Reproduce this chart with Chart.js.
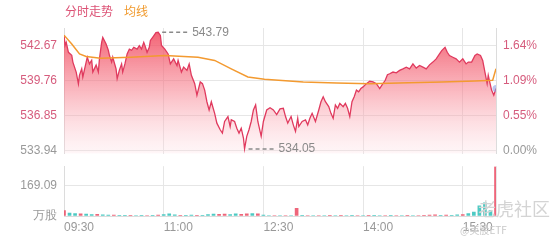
<!DOCTYPE html>
<html>
<head>
<meta charset="utf-8">
<script src="https://cdn.jsdelivr.net/npm/chart.js@4.4.1/dist/chart.umd.min.js"></script>
<style>
  html, body { margin: 0; padding: 0; background: #fff; }
  #wrap { position: relative; width: 560px; height: 240px; overflow: hidden; font-family: "Liberation Sans", Arial, "Noto Sans CJK SC", sans-serif; }
  #price { position: absolute; left: 0; top: 0; }
  #vol { position: absolute; left: 0; top: 152px; }
  .lg { position: absolute; top: 2px; font-size: 12px; font-family: "Noto Sans CJK SC", sans-serif; }
  .wm { position: absolute; color: #d4d4d4; font-family: "Noto Sans CJK SC", sans-serif; }
</style>
</head>
<body>
<div id="wrap">
  <canvas id="price" width="560" height="168"></canvas>
  <canvas id="vol" width="560" height="88"></canvas>
  <div class="lg" style="left:65px;color:#dc5275">分时走势</div>
  <div class="lg" style="left:124px;color:#f09a2e">均线</div>
  <div class="wm" style="left:478px;top:195px;font-size:18px">老虎社区</div>
  <div class="wm" style="left:460px;top:222px;font-size:10px;color:#c8c8c8">@美股ETF</div>
</div>
<script>
// minutes after 09:30 and price at that minute
const priceMins = [0,1,2,4,7,8,11,13,14,16,17,20,21,23,25,26,29,31,32,34,35,38,40,41,43,44,47,48,50,52,53,55,57,59,61,63,66,68,70,72,73,75,77,78,81,83,85,87,88,91,
  94,96,99,102,103,106,108,111,113,115,118,120,123,125,127,129,131,133,136,138,141,143,145,148,150,151,154,156,158,160,162,163,165,167,169,171,173,175,178,180,183,186,189,
  192,195,198,200,202,205,207,209,211,212,215,218,220,222,224,227,230,232,234,236,239,241,243,245,247,249,252,254,256,258,260,262,264,266,268,270,273,276,279,282,284,
  285,287,290,292,294,297,300,303,306,309,312,315,318,321,324,327,330,333,336,339,341,344,346,348,351,354,357,360,363,365,368,371,373,376,378,380,382,383,384,386,388,390];
const priceVals = [543.55,542.70,542.95,542.12,541.87,541.30,540.47,539.48,540.22,540.74,540.06,541.30,541.71,541.15,541.46,540.47,541.05,540.47,541.57,542.95,543.36,542.81,542.29,541.87,541.30,541.71,540.74,539.92,540.63,541.15,540.47,541.15,541.98,542.39,542.29,542.54,542.39,542.68,542.39,542.95,542.70,542.12,542.54,543.11,543.50,543.77,543.79,543.53,542.70,542.39,
  541.98,541.15,541.57,541.02,541.44,540.47,540.88,540.61,541.15,540.20,539.50,538.54,539.64,539.50,538.96,537.99,537.30,537.99,537.02,536.20,535.65,535.37,536.34,536.75,535.92,536.48,536.34,535.78,535.37,535.78,534.96,534.05,535.10,535.65,536.34,537.30,537.72,536.34,535.10,536.34,537.30,537.49,537.30,
  536.92,537.39,537.44,536.75,536.20,536.75,536.06,535.51,536.61,535.92,536.34,536.48,536.06,536.61,537.02,536.34,537.30,537.99,538.40,537.99,537.58,537.02,536.61,537.72,537.44,537.85,537.58,537.85,537.44,536.75,537.99,538.40,538.96,538.82,539.09,539.23,539.50,539.70,539.64,539.50,539.23,
  539.09,539.37,539.78,540.25,540.33,540.47,540.41,540.61,540.74,540.88,540.74,541.15,540.80,541.02,540.88,540.74,541.07,541.30,541.57,541.98,542.26,542.54,542.12,541.85,541.71,541.57,541.30,541.57,541.15,541.30,541.30,541.85,541.98,541.85,541.44,540.47,539.50,540.20,539.78,538.96,538.54,539.09];

// average price line
const avgMins = [0,7,14,20,33,60,91,121,136,151,166,181,216,246,276,311,341,371,387,390];
const avgVals = [543.55,542.81,541.98,541.77,541.63,541.71,541.85,541.71,541.44,540.74,540.06,539.87,539.64,539.56,539.50,539.58,539.64,539.73,539.78,540.74];

// volume (万股) every 5 minutes, 1 = up (red), -1 = down (teal)
const volMins = [0,5,10,15,20,25,30,35,40,45,50,55,60,65,70,75,80,85,90,95,100,105,110,115,120,125,130,135,140,145,150,155,160,165,170,175,180,185,190,195,
  200,205,210,215,220,225,230,235,240,245,250,255,260,265,270,275,280,285,290,295,300,305,310,315,320,325,330,335,340,345,350,355,360,365,370,375,380,385,390];
const volVals = [30,16,14,12,10,8,9,6,5,5,4,4,4,3,4,3,4,5,8,12,6,4,4,5,4,4,8,10,9,10,8,12,9,12,14,12,5,3,3,3,
  3,3,42,4,3,3,3,3,2,3,2,3,2,3,3,2,2,3,3,2,3,3,2,3,3,4,5,6,4,5,4,6,8,14,22,56,73,30,271];
const volDir = [1,-1,-1,1,-1,-1,1,-1,-1,1,-1,-1,1,-1,-1,1,-1,1,-1,-1,-1,1,-1,-1,1,-1,-1,-1,1,1,-1,-1,1,1,-1,1,-1,-1,1,-1,
  1,-1,1,-1,1,-1,1,-1,1,-1,1,-1,-1,1,-1,1,-1,-1,1,-1,1,-1,1,-1,1,1,1,1,-1,1,-1,-1,1,-1,-1,-1,-1,-1,1];

const prevClose = 533.94;
const priceTicks = [533.94, 536.85, 539.76, 542.67];
const pctLabels = ['0.00%', '0.55%', '1.09%', '1.64%'];
const volTicks = [0, 169.09];
const volLabels = ['万股', '169.09'];
const xTicks = [0, 90, 180, 270, 360, 390];
const xLabels = ['09:30', '11:00', '12:30', '14:00', '15:30', ''];

const GRID = '#e6e6e6';
const PINK = '#d65c7d';
const GRAY = '#999';
const font = { family: '"Liberation Sans", Arial, sans-serif', size: 12 };

const hiLoPlugin = {
  id: 'hilo',
  afterDatasetsDraw(chart) {
    const { ctx, scales } = chart;
    let hi = 0, lo = 0;
    priceVals.forEach((v, i) => {
      if (v > priceVals[hi]) hi = i;
      if (v < priceVals[lo]) lo = i;
    });
    [hi, lo].forEach((i) => {
      const px = scales.x.getPixelForValue(priceMins[i]);
      const py = scales.y.getPixelForValue(priceVals[i]);
      ctx.save();
      ctx.strokeStyle = '#8a8a8a';
      ctx.lineWidth = 1.5;
      ctx.setLineDash([4, 3]);
      ctx.beginPath();
      ctx.moveTo(px + 4, py);
      ctx.lineTo(px + 30, py);
      ctx.stroke();
      ctx.setLineDash([]);
      ctx.fillStyle = '#8a8a8a';
      ctx.font = '12px "Liberation Sans", Arial, sans-serif';
      ctx.textBaseline = 'middle';
      ctx.fillText(priceVals[i].toFixed(2), px + 34, py);
      ctx.restore();
    });
  },
};

const fillGradient = (context) => {
  const { ctx, chartArea } = context.chart;
  if (!chartArea) return 'rgba(240,90,110,0.4)';
  const g = ctx.createLinearGradient(0, chartArea.top, 0, chartArea.bottom);
  g.addColorStop(0, 'rgba(240,70,90,0.88)');
  g.addColorStop(0.5, 'rgba(246,120,135,0.52)');
  g.addColorStop(1, 'rgba(255,220,226,0.25)');
  return g;
};

const lastIdx = priceVals.length - 1;

new Chart(document.getElementById('price'), {
  type: 'line',
  data: {
    datasets: [
      {
        label: '均线',
        data: avgMins.map((m, i) => ({ x: m, y: avgVals[i] })),
        borderColor: '#f39a30',
        borderWidth: 1.5,
        pointRadius: 0,
        fill: false,
      },
      {
        label: '分时走势',
        data: priceMins.map((m, i) => ({ x: m, y: priceVals[i] })),
        borderColor: '#e03a5e',
        borderWidth: 1.3,
        backgroundColor: fillGradient,
        fill: 'start',
        pointRadius: (c) => (c.dataIndex === lastIdx ? 3.5 : 0),
        pointBackgroundColor: 'rgba(140,160,230,0.6)',
        pointBorderWidth: 0,
      },
    ],
  },
  options: {
    responsive: false,
    animation: false,
    layout: { padding: { top: 28, bottom: 4 } },
    plugins: { legend: { display: false }, tooltip: { enabled: false } },
    scales: {
      x: {
        type: 'linear',
        min: 0,
        max: 390,
        afterBuildTicks: (s) => { s.ticks = xTicks.map((v) => ({ value: v })); },
        afterFit: (s) => { s.height = 0; },
        ticks: { display: false },
        grid: { color: GRID, drawTicks: false },
        border: { display: false },
      },
      y: {
        position: 'left',
        min: 533.64,
        max: 544.15,
        afterBuildTicks: (s) => { s.ticks = priceTicks.map((v) => ({ value: v })); },
        afterFit: (s) => { s.width = 64; },
        ticks: {
          padding: 7,
          font,
          color: (c) => (c.index === 0 ? GRAY : PINK),
          callback: (v) => v.toFixed(2),
        },
        grid: { color: GRID, drawTicks: false },
        border: { color: '#dcdcdc' },
      },
      y1: {
        position: 'right',
        min: 533.64,
        max: 544.15,
        afterBuildTicks: (s) => { s.ticks = priceTicks.map((v) => ({ value: v })); },
        afterFit: (s) => { s.width = 64; },
        ticks: {
          padding: 7,
          font,
          color: (c) => (c.index === 0 ? GRAY : PINK),
          callback: (v, i) => pctLabels[i],
        },
        grid: { display: false, drawTicks: false },
        border: { color: '#dcdcdc' },
      },
    },
  },
  plugins: [hiLoPlugin],
});

new Chart(document.getElementById('vol'), {
  type: 'bar',
  data: {
    datasets: [
      {
        data: volMins.map((m, i) => ({ x: m, y: volVals[i] })),
        backgroundColor: volDir.map((d) => (d > 0 ? 'rgba(236,84,108,0.9)' : 'rgba(58,196,188,0.9)')),
        barThickness: 3,
      },
    ],
  },
  options: {
    responsive: false,
    animation: false,
    layout: { padding: { top: 8, right: 64 } },
    plugins: { legend: { display: false }, tooltip: { enabled: false } },
    scales: {
      x: {
        type: 'linear',
        min: 0,
        max: 390,
        offset: false,
        afterBuildTicks: (s) => { s.ticks = xTicks.map((v) => ({ value: v })); },
        afterFit: (s) => { s.height = 24; },
        ticks: {
          font,
          color: GRAY,
          align: 'start',
          padding: 4,
          maxRotation: 0,
          autoSkip: false,
          callback: (v, i) => xLabels[i],
        },
        grid: { color: GRID, drawTicks: false, offset: false },
        border: { color: '#dcdcdc' },
      },
      y: {
        position: 'left',
        min: 0,
        max: 275,
        afterBuildTicks: (s) => { s.ticks = volTicks.map((v) => ({ value: v })); },
        afterFit: (s) => { s.width = 64; },
        ticks: {
          padding: 7,
          font,
          color: GRAY,
          callback: (v, i) => volLabels[i],
        },
        grid: { color: GRID, drawTicks: false },
        border: { color: '#dcdcdc' },
      },
    },
  },
});
</script>
</body>
</html>
